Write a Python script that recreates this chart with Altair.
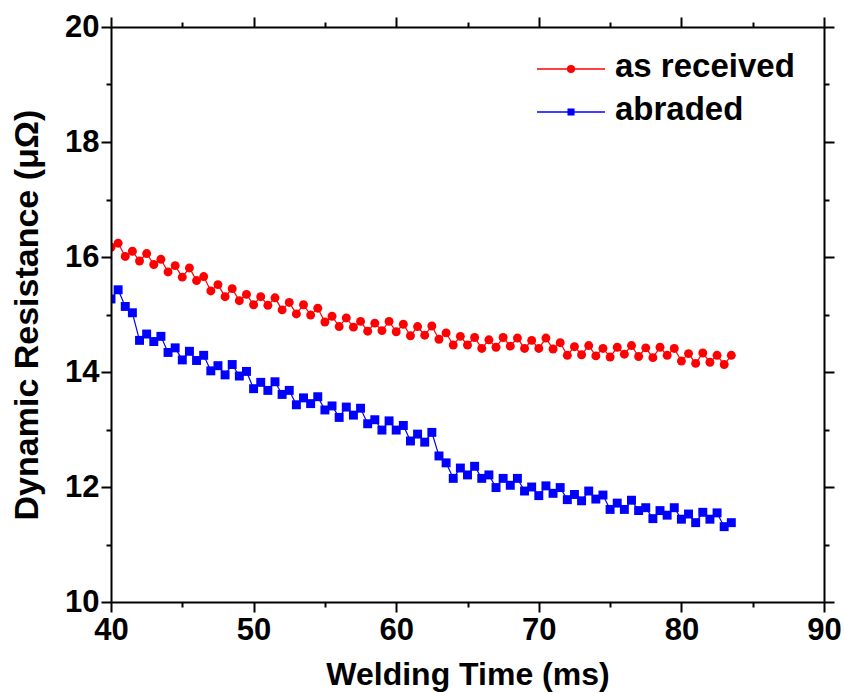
import altair as alt
import pandas as pd

# ---- data ----
series_names = ["as received", "abraded"]
series_colors = ["#FF0000", "#0000FF"]

time_ms = [
    40.0, 40.5, 41.0, 41.5, 42.0, 42.5, 43.0, 43.5, 44.0, 44.5,
    45.0, 45.5, 46.0, 46.5, 47.0, 47.5, 48.0, 48.5, 49.0, 49.5,
    50.0, 50.5, 51.0, 51.5, 52.0, 52.5, 53.0, 53.5, 54.0, 54.5,
    55.0, 55.5, 56.0, 56.5, 57.0, 57.5, 58.0, 58.5, 59.0, 59.5,
    60.0, 60.5, 61.0, 61.5, 62.0, 62.5, 63.0, 63.5, 64.0, 64.5,
    65.0, 65.5, 66.0, 66.5, 67.0, 67.5, 68.0, 68.5, 69.0, 69.5,
    70.0, 70.5, 71.0, 71.5, 72.0, 72.5, 73.0, 73.5, 74.0, 74.5,
    75.0, 75.5, 76.0, 76.5, 77.0, 77.5, 78.0, 78.5, 79.0, 79.5,
    80.0, 80.5, 81.0, 81.5, 82.0, 82.5, 83.0, 83.5,
]

as_received = [
    16.17, 16.24, 16.01, 16.10, 15.93, 16.06, 15.87, 15.96, 15.74, 15.85,
    15.65, 15.81, 15.59, 15.66, 15.41, 15.52, 15.31, 15.45, 15.24, 15.35,
    15.17, 15.31, 15.16, 15.29, 15.08, 15.21, 15.01, 15.17, 14.99, 15.11,
    14.87, 14.97, 14.79, 14.94, 14.78, 14.88, 14.71, 14.85, 14.72, 14.88,
    14.70, 14.83, 14.63, 14.79, 14.64, 14.80, 14.57, 14.68, 14.47, 14.62,
    14.47, 14.60, 14.41, 14.56, 14.43, 14.60, 14.45, 14.59, 14.41, 14.55,
    14.41, 14.59, 14.40, 14.51, 14.29, 14.44, 14.30, 14.46, 14.28, 14.41,
    14.26, 14.43, 14.31, 14.46, 14.27, 14.42, 14.25, 14.43, 14.29, 14.41,
    14.19, 14.32, 14.15, 14.33, 14.17, 14.29, 14.13, 14.29,
]

abraded = [
    15.27, 15.43, 15.14, 15.03, 14.55, 14.66, 14.53, 14.62, 14.34, 14.42,
    14.21, 14.36, 14.20, 14.29, 14.02, 14.11, 13.95, 14.13, 13.93, 14.01,
    13.71, 13.82, 13.68, 13.83, 13.61, 13.68, 13.43, 13.55, 13.45, 13.57,
    13.34, 13.41, 13.21, 13.39, 13.25, 13.37, 13.10, 13.17, 12.99, 13.15,
    12.99, 13.07, 12.80, 12.92, 12.78, 12.95, 12.54, 12.42, 12.15, 12.33,
    12.21, 12.36, 12.15, 12.21, 11.99, 12.15, 12.03, 12.15, 11.93, 12.00,
    11.85, 12.02, 11.89, 11.99, 11.78, 11.87, 11.76, 11.93, 11.79, 11.86,
    11.61, 11.72, 11.61, 11.77, 11.59, 11.64, 11.45, 11.59, 11.51, 11.64,
    11.44, 11.53, 11.38, 11.56, 11.44, 11.55, 11.31, 11.38,
]

x_ticks = [40, 45, 50, 55, 60, 65, 70, 75, 80, 85, 90]
y_ticks = [10, 11, 12, 13, 14, 15, 16, 17, 18, 19, 20]

df = pd.DataFrame({
    "t": time_ms + time_ms,
    "r": as_received + abraded,
    "series": [series_names[0]] * len(time_ms) + [series_names[1]] * len(time_ms),
})

FONT = "Liberation Sans"
W, H = 713, 575

color_scale = alt.Scale(domain=series_names, range=series_colors)
shape_scale = alt.Scale(domain=series_names, range=["circle", "square"])
x_scale = alt.Scale(domain=[40, 90], nice=False, zero=False)
y_scale = alt.Scale(domain=[10, 20], nice=False, zero=False)

x_tick_size = {"condition": {"test": "datum.value % 10 === 0", "value": 10}, "value": 5}
y_tick_size = {"condition": {"test": "datum.value % 2 === 0", "value": 10}, "value": 5}

common_axis = dict(
    domainColor="black", domainWidth=2, tickColor="black", tickWidth=2,
    labelFont=FONT, labelFontSize=31, labelFontWeight="bold", labelColor="black",
    titleFont=FONT, titleFontWeight="bold", titleColor="black", grid=False, zindex=1,
)

x_axis = alt.Axis(
    values=x_ticks, tickSize=x_tick_size,
    labelExpr="datum.value % 10 === 0 ? datum.label : ''",
    labelPadding=3, labelFlush=False,
    title="Welding Time (ms)", titleFontSize=32, titleBaseline="alphabetic",
    titleY=82, orient="bottom", **common_axis,
)
y_axis = alt.Axis(
    values=y_ticks, tickSize=y_tick_size,
    labelExpr="datum.value % 2 === 0 ? datum.label : ''",
    labelPadding=2, labelFlush=False,
    title="Dynamic Resistance (\u03bc\u03a9)", titleFontSize=34, titleBaseline="alphabetic",
    titleX=-74, orient="left", **common_axis,
)
x_axis_top = alt.Axis(
    values=x_ticks, tickSize=x_tick_size, labels=False, title=None, orient="top",
    domainColor="black", domainWidth=2, tickColor="black", tickWidth=2, grid=False, zindex=1,
)
y_axis_right = alt.Axis(
    values=y_ticks, tickSize=y_tick_size, labels=False, title=None, orient="right",
    domainColor="black", domainWidth=2, tickColor="black", tickWidth=2, grid=False, zindex=1,
)

base = alt.Chart(df)

lines = base.mark_line(strokeWidth=1.2, clip=True).encode(
    x=alt.X("t:Q", scale=x_scale, axis=x_axis),
    y=alt.Y("r:Q", scale=y_scale, axis=y_axis),
    color=alt.Color("series:N", scale=color_scale, legend=None),
    detail="series:N",
)

points = base.mark_point(filled=True, size=80, opacity=1, clip=True).encode(
    x=alt.X("t:Q", scale=x_scale, axis=x_axis_top),
    y=alt.Y("r:Q", scale=y_scale, axis=y_axis_right),
    color=alt.Color("series:N", scale=color_scale, legend=None),
    shape=alt.Shape("series:N", scale=shape_scale, legend=None),
)

# ---- hand-built legend (top right, inside the plot) ----
legend_layers = []
legend_rows = [(42, 50), (85, 93)]
legend_shapes = ["circle", "square"]
legend_sizes = [66, 50]
for i, name in enumerate(series_names):
    ly, ty = legend_rows[i]
    ldf = pd.DataFrame({"label": [name]})
    legend_layers.append(
        alt.Chart(ldf).mark_rule(color=series_colors[i], strokeWidth=1.5).encode(
            x=alt.value(426), x2=alt.value(494), y=alt.value(ly)
        )
    )
    legend_layers.append(
        alt.Chart(ldf).mark_point(filled=True, shape=legend_shapes[i], size=legend_sizes[i],
                                  color=series_colors[i], opacity=1).encode(
            x=alt.value(460), y=alt.value(ly)
        )
    )
    legend_layers.append(
        alt.Chart(ldf).mark_text(align="left", baseline="alphabetic", font=FONT,
                                 fontSize=33, fontWeight="bold", color="black").encode(
            x=alt.value(504), y=alt.value(ty), text="label:N"
        )
    )

chart = alt.layer(lines, points, *legend_layers).resolve_axis(
    x="independent", y="independent"
).properties(
    width=W, height=H,
    padding={"left": 111, "top": 27, "right": 20, "bottom": 91},
    autosize=alt.AutoSizeParams(type="none"),
    background="white",
).configure_view(stroke=None)

chart.save("out.html", embed_options={"renderer": "svg", "actions": False})
